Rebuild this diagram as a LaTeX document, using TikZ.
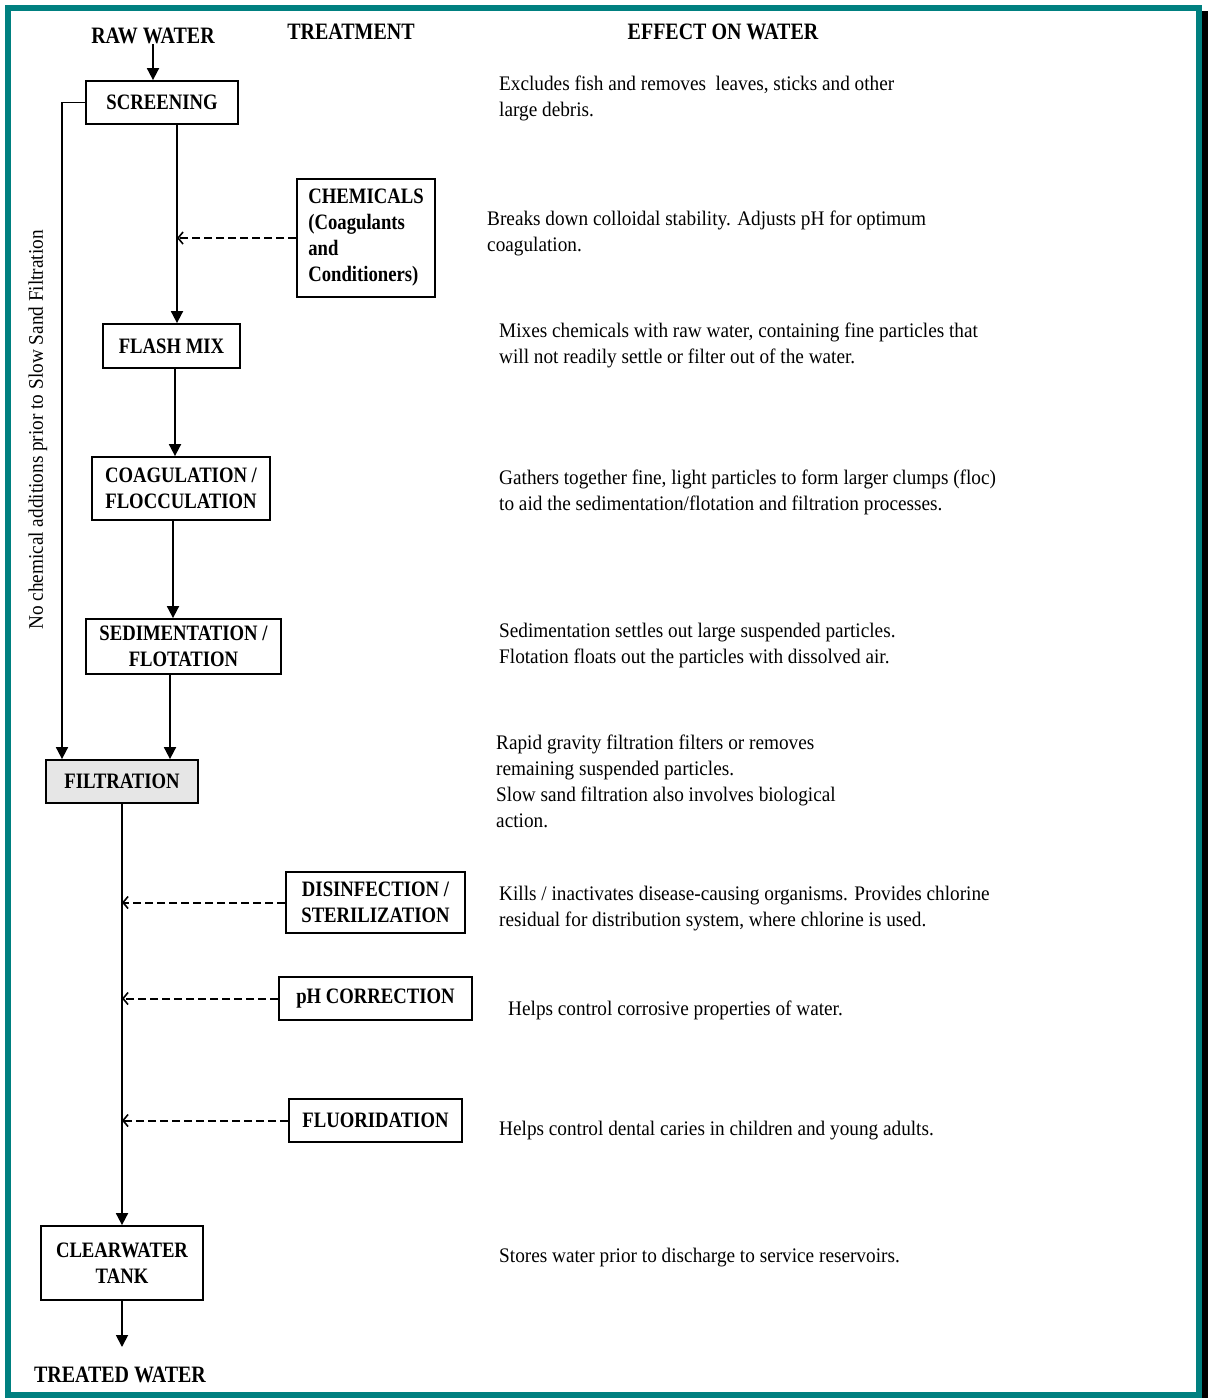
\documentclass[tikz,border=0pt]{standalone}
\usepackage{fontspec}
\setmainfont{Liberation Serif}[FakeStretch=0.93, BoldFeatures={FakeStretch=0.85}]
\usetikzlibrary{arrows.meta}
\definecolor{frameteal}{RGB}{0,128,128}
\definecolor{filtgray}{RGB}{230,230,230}
\newcommand\lblfont{\fontsize{22}{26}\selectfont\bfseries}
\newcommand\hdrfont{\fontsize{23.5}{26}\selectfont\bfseries}
\newcommand\bodyfont{\fontsize{20.7}{26}\selectfont}
\begin{document}
\begin{tikzpicture}[x=1pt,y=-1pt,
  box/.style={draw, line width=1.8pt, inner sep=0pt, font=\lblfont, align=center},
  flow/.style={line width=1.8pt, -{Triangle[length=12pt,width=12pt]}},
  feed/.style={line width=2pt, dash pattern=on 8pt off 4pt, -{Straight Barb[length=5pt,width=12pt,line width=1.6pt]}},
  eff/.style={anchor=west, align=left, inner sep=0pt, font=\bodyfont},
  hdr/.style={font=\hdrfont, inner sep=0pt}]
\useasboundingbox (0,0) rectangle (1212,1398);
% frame
\fill[black] (1202,11) rectangle (1208,1398);
\draw[line width=6pt, draw=frameteal] (8,8) rectangle (1199,1395);
% headers
\node[hdr] (raw) at (153,36) {RAW WATER};
\node[hdr] (treat) at (351,32) {TREATMENT};
\node[hdr] (effect) at (723,32) {EFFECT ON WATER};
\node[hdr] (treated) at (120,1375) {TREATED WATER};
% boxes
\node[box, minimum width=152pt, minimum height=43pt] (screen) at (162,102.5) {SCREENING};
\node[box, minimum width=138pt, minimum height=118pt, align=left] (chem) at (366,238) {CHEMICALS\\(Coagulants\\and\\Conditioners)};
\node[box, minimum width=137pt, minimum height=44pt] (flash) at (171.5,346) {FLASH MIX};
\node[box, minimum width=178pt, minimum height=63pt] (coag) at (181,488.5) {COAGULATION /\\FLOCCULATION};
\node[box, minimum width=195pt, minimum height=55pt] (sed) at (183.5,646.5) {SEDIMENTATION /\\FLOTATION};
\node[box, minimum width=152pt, minimum height=43pt, fill=filtgray] (filt) at (122,781.5) {FILTRATION};
\node[box, minimum width=179pt, minimum height=61pt] (dis) at (375.5,902.5) {DISINFECTION /\\STERILIZATION};
\node[box, minimum width=193pt, minimum height=43pt] (ph) at (375.5,998.5) {pH CORRECTION};
\node[box, minimum width=173pt, minimum height=43pt] (flu) at (375.5,1120.5) {FLUORIDATION};
\node[box, minimum width=162pt, minimum height=74pt] (clear) at (122,1263) {CLEARWATER\\TANK};
% side note
\node[rotate=90, font=\bodyfont, inner sep=0pt] (note) at (38,430) {No chemical additions prior to Slow Sand Filtration};
% helper x positions
\coordinate (m1) at (177,0);
\coordinate (m2) at (175,0);
\coordinate (m3) at (173,0);
\coordinate (m4) at (170,0);
\coordinate (bp) at (62,0);
\coordinate (tw) at (122,1347);
% connectors
\draw[flow] (raw.south) -- (raw.south |- screen.north);
\draw[flow] (screen.south -| m1) -- (flash.north -| m1);
\draw[feed] (chem.west) -- (chem.west -| m1);
\draw[flow] (flash.south -| m2) -- (coag.north -| m2);
\draw[flow] (coag.south -| m3) -- (sed.north -| m3);
\draw[flow] (sed.south -| m4) -- (filt.north -| m4);
\draw[flow] (screen.west) -| (filt.north -| bp);
\draw[flow] (filt.south) -- (clear.north);
\draw[feed] (dis.west) -- (dis.west -| filt.south);
\draw[feed] (ph.west) -- (ph.west -| filt.south);
\draw[feed] (flu.west) -- (flu.west -| filt.south);
\draw[flow] (clear.south) -- (tw);
% effects
\node[eff] (e1) at (499,98) {Excludes fish and removes\ \ leaves, sticks and other\\large debris.};
\node[eff] (e2) at (487,233) {Breaks down colloidal stability. Adjusts pH for optimum\\coagulation.};
\node[eff] (e3) at (499,345) {Mixes chemicals with raw water, containing fine particles that\\will not readily settle or filter out of the water.};
\node[eff] (e4) at (499,492) {Gathers together fine, light particles to form larger clumps (floc)\\to aid the sedimentation/flotation and filtration processes.};
\node[eff] (e5) at (499,645.5) {Sedimentation settles out large suspended particles.\\Flotation floats out the particles with dissolved air.};
\node[eff] (e6) at (496,781) {Rapid gravity filtration filters or removes\\remaining suspended particles.\\Slow sand filtration also involves biological\\action.};
\node[eff] (e7) at (499,908.5) {Kills / inactivates disease-causing organisms. Provides chlorine\\residual for distribution system, where chlorine is used.};
\node[eff] (e8) at (508,1010) {Helps control corrosive properties of water.};
\node[eff] (e9) at (499,1131) {Helps control dental caries in children and young adults.};
\node[eff] (e10) at (499,1258) {Stores water prior to discharge to service reservoirs.};
\end{tikzpicture}
\end{document}
